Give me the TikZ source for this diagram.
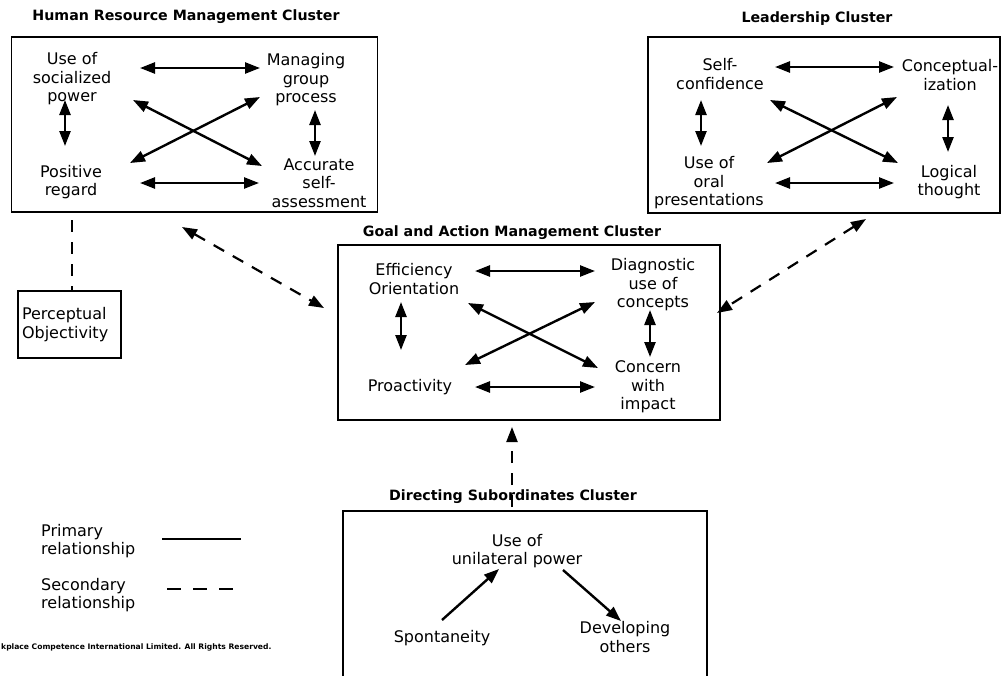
\documentclass[tikz,border=0pt]{standalone}
\usepackage{fontspec}
\setmainfont{DejaVu Sans}
\usetikzlibrary{arrows.meta}
\begin{document}
\begin{tikzpicture}[x=1pt,y=-1pt,
  lbl/.style={align=center,font=\fontsize{16}{18.5}\selectfont,inner sep=0pt},
  ttl/.style={font=\bfseries\fontsize{14.2}{16}\selectfont,inner sep=0pt},
  cluster/.style={draw,line width=1.3pt,inner sep=0pt},
  tip/.tip={Triangle[length=15pt,width=11pt]},
  rel/.style={line width=2.4pt,tip-tip},
  relone/.style={line width=2.4pt,-tip},
  sec/.style={line width=2.2pt,dash pattern=on 12pt off 10pt,tip-tip},
  secone/.style={line width=2.2pt,dash pattern=on 12pt off 10pt,-tip},
  secplain/.style={line width=2.2pt,dash pattern=on 12pt off 10pt}
]
\useasboundingbox (0,0) rectangle (1004,675);

% ---------- Human Resource Management Cluster ----------
\node[ttl] (hrmt) at (186,17) {Human Resource Management Cluster};
\node[cluster,minimum width=366pt,minimum height=175pt] (hrm) at (194.5,124.5) {};
\node[lbl] (soc) at (72,79) {Use of\\socialized\\power};
\node[lbl] (mgp) at (306,80) {Managing\\group\\process};
\node[lbl] (pos) at (71,182) {Positive\\regard};
\node[lbl] (acc) at (319,183) {Accurate\\self-\\assessment};
\coordinate (h1a) at (140,68); \coordinate (h1b) at (260,68);
\coordinate (h2a) at (140,183); \coordinate (h2b) at (259,183);
\coordinate (h3a) at (65,100); \coordinate (h3b) at (65,146);
\coordinate (h4a) at (315,110); \coordinate (h4b) at (315,156);
\coordinate (h5a) at (133,100); \coordinate (h5b) at (262,166);
\coordinate (h6a) at (130,163); \coordinate (h6b) at (260,97);
\draw[rel] (h1a) -- (h1b);
\draw[rel] (h2a) -- (h2b);
\draw[rel] (h3a) -- (h3b);
\draw[rel] (h4a) -- (h4b);
\draw[rel] (h5a) -- (h5b);
\draw[rel] (h6a) -- (h6b);

% ---------- Leadership Cluster ----------
\node[ttl] (ldt) at (817,19) {Leadership Cluster};
\node[cluster,minimum width=352pt,minimum height=176pt] (ld) at (824,125) {};
\node[lbl] (selfc) at (720,74) {Self-\\confidence};
\node[lbl] (concept) at (950,75) {Conceptual-\\ization};
\node[lbl] (oral) at (709,183) {Use of\\oral\\presentations};
\node[lbl] (logic) at (949,182) {Logical\\thought};
\coordinate (l1a) at (775,67); \coordinate (l1b) at (894,67);
\coordinate (l2a) at (775,183); \coordinate (l2b) at (894,183);
\coordinate (l3a) at (701,100); \coordinate (l3b) at (701,146);
\coordinate (l4a) at (948,105); \coordinate (l4b) at (948,152);
\coordinate (l5a) at (770,100); \coordinate (l5b) at (898,163);
\coordinate (l6a) at (767,163); \coordinate (l6b) at (897,97);
\draw[rel] (l1a) -- (l1b);
\draw[rel] (l2a) -- (l2b);
\draw[rel] (l3a) -- (l3b);
\draw[rel] (l4a) -- (l4b);
\draw[rel] (l5a) -- (l5b);
\draw[rel] (l6a) -- (l6b);

% ---------- Goal and Action Management Cluster ----------
\node[ttl] (gat) at (512,233) {Goal and Action Management Cluster};
\node[cluster,minimum width=382pt,minimum height=175pt] (ga) at (529,332.5) {};
\node[lbl] (eff) at (414,279) {Efficiency\\Orientation};
\node[lbl] (diag) at (653,285) {Diagnostic\\use of\\concepts};
\node[lbl] (proact) at (410,387) {Proactivity};
\node[lbl] (concern) at (648,387) {Concern\\with\\impact};
\coordinate (g1a) at (475,271); \coordinate (g1b) at (595,271);
\coordinate (g2a) at (475,387); \coordinate (g2b) at (595,387);
\coordinate (g3a) at (401,302); \coordinate (g3b) at (401,350);
\coordinate (g4a) at (650,310); \coordinate (g4b) at (650,357);
\coordinate (g5a) at (468,303); \coordinate (g5b) at (598,368);
\coordinate (g6a) at (465,365); \coordinate (g6b) at (595,302);
\draw[rel] (g1a) -- (g1b);
\draw[rel] (g2a) -- (g2b);
\draw[rel] (g3a) -- (g3b);
\draw[rel] (g4a) -- (g4b);
\draw[rel] (g5a) -- (g5b);
\draw[rel] (g6a) -- (g6b);

% ---------- Perceptual Objectivity ----------
\node[draw,line width=1.3pt,minimum width=103pt,minimum height=67pt,text width=95pt,
      inner xsep=4pt,inner ysep=0pt,align=left,font=\fontsize{16}{18.5}\selectfont]
      (perc) at (69.5,324.5) {Perceptual\\Objectivity};

% ---------- Directing Subordinates Cluster ----------
\node[ttl] (dst) at (513,497) {Directing Subordinates Cluster};
\node[cluster,minimum width=364pt,minimum height=180pt] (ds) at (525,601) {};
\node[lbl] (unil) at (517,551) {Use of\\unilateral power};
\node[lbl] (spont) at (442,638) {Spontaneity};
\node[lbl] (dev) at (625,637) {Developing\\others};
\coordinate (d1a) at (442,620); \coordinate (d1b) at (499,569);
\coordinate (d2a) at (563,570); \coordinate (d2b) at (621,621);
\draw[relone] (d1a) -- (d1b);
\draw[relone] (d2a) -- (d2b);

% ---------- secondary relationships ----------
\coordinate (p1) at (72,220); \coordinate (p2) at (72,291);
\draw[secplain] (p1) -- (p2);
\coordinate (s1a) at (182,227); \coordinate (s1b) at (324,308);
\draw[sec] (s1a) -- (s1b);
\coordinate (s2a) at (866,219); \coordinate (s2b) at (717,313);
\draw[sec] (s2a) -- (s2b);
\coordinate (s3a) at (512,507); \coordinate (s3b) at (512,427);
\draw[secone] (s3a) -- (s3b);

% ---------- legend ----------
\node[align=left,anchor=west,inner sep=0pt,font=\fontsize{16}{18.5}\selectfont] (prim) at (41,541) {Primary\\relationship};
\node[align=left,anchor=west,inner sep=0pt,font=\fontsize{16}{18.5}\selectfont] (secl) at (41,595) {Secondary\\relationship};
\coordinate (lp1) at (162,539); \coordinate (lp2) at (241,539);
\draw[line width=2.2pt] (lp1) -- (lp2);
\coordinate (ls1) at (167,589); \coordinate (ls2) at (235,589);
\draw[line width=2.2pt,dash pattern=on 14pt off 12pt] (ls1) -- (ls2);

% ---------- copyright ----------
\node[anchor=base west,inner sep=0pt,font=\bfseries\fontsize{7.6}{9}\selectfont] (copy) at (1,649)
  {kplace Competence International Limited. All Rights Reserved.};
\end{tikzpicture}
\end{document}
